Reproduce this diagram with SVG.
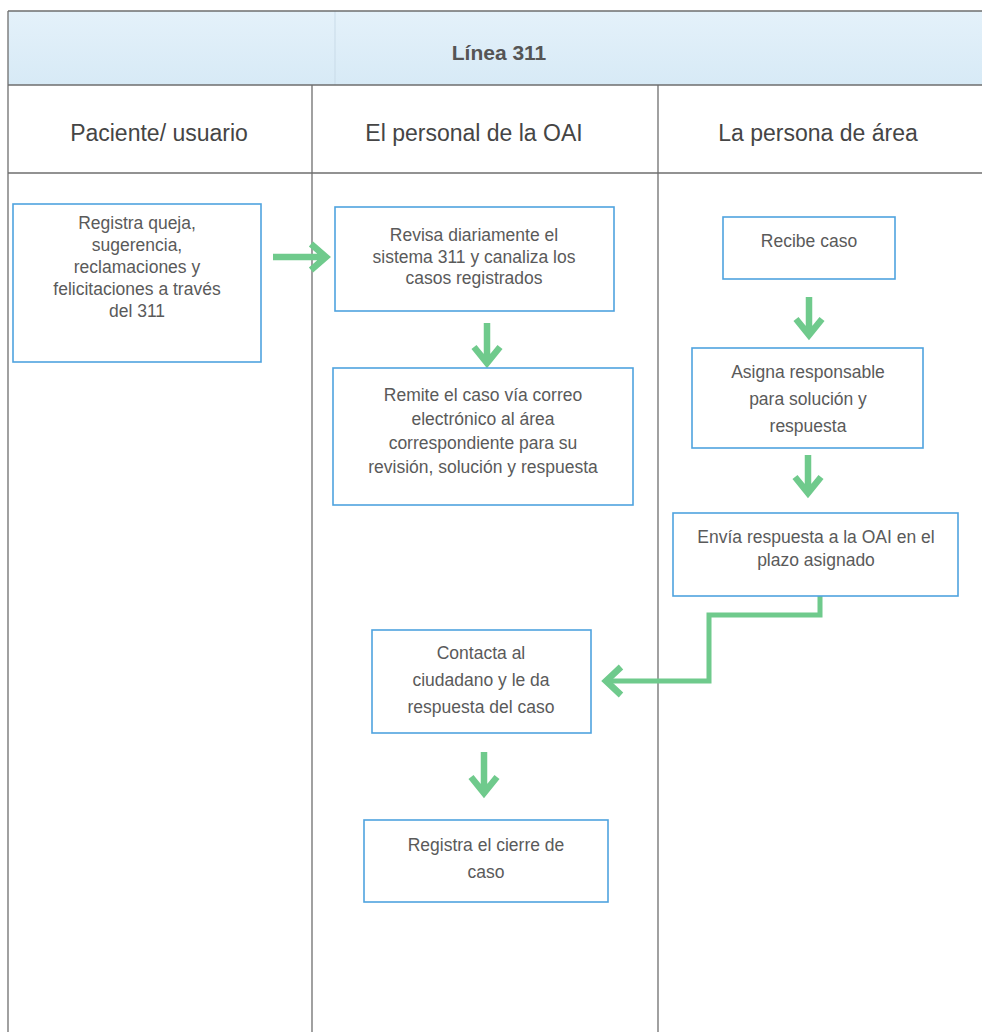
<svg xmlns="http://www.w3.org/2000/svg" width="982" height="1032" viewBox="0 0 982 1032">
<defs>
<linearGradient id="band" x1="0" y1="0" x2="0" y2="1">
<stop offset="0" stop-color="#e4f1fa"/>
<stop offset="1" stop-color="#d7eaf6"/>
</linearGradient>
</defs>
<style>
.grid{stroke:#6e6e6e;stroke-width:1.3;fill:none}
.box{fill:#ffffff;stroke:#4fa3df;stroke-width:1.6}
.t{font-family:"Liberation Sans",Arial,sans-serif;font-size:17.5px;fill:#5a5a5a;text-anchor:middle}
.h{font-family:"Liberation Sans",Arial,sans-serif;font-size:23px;fill:#454545;text-anchor:middle}
.arr{fill:none;stroke:#6fca8c;stroke-width:6.5;stroke-linejoin:miter;stroke-linecap:butt}
.elb{fill:none;stroke:#6fca8c;stroke-width:5;stroke-linejoin:miter}
</style>
<rect x="0" y="0" width="982" height="1032" fill="#ffffff"/>
<g id="table">
<rect x="8" y="11" width="974" height="74" fill="url(#band)"/>
<line x1="335" y1="11" x2="335" y2="85" stroke="#c9dbe8" stroke-width="1"/>
<line class="grid" x1="8" y1="11" x2="982" y2="11"/>
<line class="grid" x1="8" y1="85" x2="982" y2="85"/>
<line class="grid" x1="8" y1="173" x2="982" y2="173"/>
<line class="grid" x1="8" y1="11" x2="8" y2="1032"/>
<line class="grid" x1="312" y1="85" x2="312" y2="1032"/>
<line class="grid" x1="658" y1="85" x2="658" y2="1032"/>
<text class="h" x="499" y="60" style="font-size:21px;font-weight:bold;fill:#555">Línea 311</text>
<text class="h" x="159" y="141">Paciente/ usuario</text>
<text class="h" x="474" y="141">El personal de la OAI</text>
<text class="h" x="818" y="141">La persona de área</text>
</g>
<g id="connectors">
<path class="arr" d="M273,257 H325 M311,244 L326,257 L311,270"/>
<path class="arr" d="M487,323 V362 M474,347 L487,363 L500,347"/>
<path class="arr" d="M809,297 V334 M796,319 L809,335 L822,319"/>
<path class="arr" d="M808,455 V492 M795,477 L808,493 L821,477"/>
<path class="elb" d="M820,596 V615 H709 V681 H608"/>
<path class="arr" d="M621,667 L606,681 L621,695"/>
<path class="arr" d="M484,752 V792 M471,777 L484,793 L497,777"/>
</g>
<g id="n1">
<rect class="box" x="13" y="204" width="248" height="158"/>
<text class="t" x="137" y="229">Registra queja,</text>
<text class="t" x="137" y="251">sugerencia,</text>
<text class="t" x="137" y="273">reclamaciones y</text>
<text class="t" x="137" y="295">felicitaciones a través</text>
<text class="t" x="137" y="317">del 311</text>
</g>
<g id="n2">
<rect class="box" x="335" y="207" width="279" height="104"/>
<text class="t" x="474" y="241">Revisa diariamente el</text>
<text class="t" x="474" y="263">sistema 311 y canaliza los</text>
<text class="t" x="474" y="284">casos registrados</text>
</g>
<g id="n3">
<rect class="box" x="333" y="368" width="300" height="137"/>
<text class="t" x="483" y="401">Remite el caso vía correo</text>
<text class="t" x="483" y="425">electrónico al área</text>
<text class="t" x="483" y="449">correspondiente para su</text>
<text class="t" x="483" y="473">revisión, solución y respuesta</text>
</g>
<g id="n4">
<rect class="box" x="723" y="217" width="172" height="62"/>
<text class="t" x="809" y="247">Recibe caso</text>
</g>
<g id="n5">
<rect class="box" x="692" y="348" width="231" height="100"/>
<text class="t" x="808" y="378">Asigna responsable</text>
<text class="t" x="808" y="405">para solución y</text>
<text class="t" x="808" y="432">respuesta</text>
</g>
<g id="n6">
<rect class="box" x="673" y="513" width="285" height="83"/>
<text class="t" x="816" y="543">Envía respuesta a la OAI en el</text>
<text class="t" x="816" y="566">plazo asignado</text>
</g>
<g id="n7">
<rect class="box" x="372" y="630" width="219" height="103"/>
<text class="t" x="481" y="659">Contacta al</text>
<text class="t" x="481" y="686">ciudadano y le da</text>
<text class="t" x="481" y="713">respuesta del caso</text>
</g>
<g id="n8">
<rect class="box" x="364" y="820" width="244" height="82"/>
<text class="t" x="486" y="851">Registra el cierre de</text>
<text class="t" x="486" y="878">caso</text>
</g>
</svg>
